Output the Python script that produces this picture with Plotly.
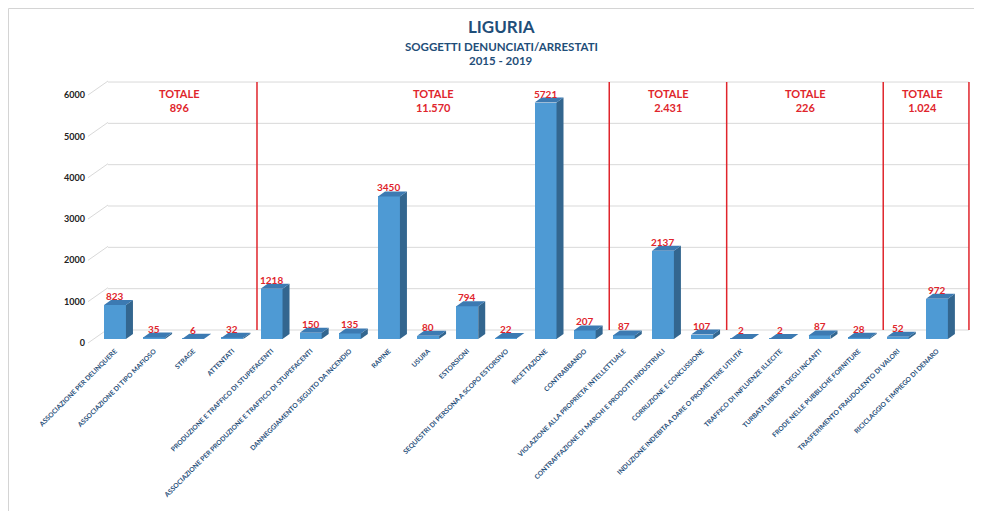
import plotly.graph_objects as go

# ---------------- data ----------------
categories = [
    "ASSOCIAZIONE PER DELINQUERE",
    "ASSOCIAZIONE DI TIPO MAFIOSO",
    "STRAGE",
    "ATTENTATI",
    "PRODUZIONE E TRAFFICO DI STUPEFACENTI",
    "ASSOCIAZIONE PER PRODUZIONE E TRAFFICO DI STUPEFACENTI",
    "DANNEGGIAMENTO SEGUITO DA INCENDIO",
    "RAPINE",
    "USURA",
    "ESTORSIONI",
    "SEQUESTRI DI PERSONA A SCOPO ESTORSIVO",
    "RICETTAZIONE",
    "CONTRABBANDO",
    "VIOLAZIONE ALLA PROPRIETA' INTELLETTUALE",
    "CONTRAFFAZIONE DI MARCHI E PRODOTTI INDUSTRIALI",
    "CORRUZIONE E CONCUSSIONE",
    "INDUZIONE INDEBITA A DARE O PROMETTERE UTILITA'",
    "TRAFFICO DI INFLUENZE ILLECITE",
    "TURBATA LIBERTA' DEGLI INCANTI",
    "FRODE NELLE PUBBLICHE FORNITURE",
    "TRASFERIMENTO FRAUDOLENTO DI VALORI",
    "RICICLAGGIO E IMPIEGO DI DENARO",
]
values = [823, 35, 6, 32, 1218, 150, 135, 3450, 80, 794, 22, 5721, 207,
          87, 2137, 107, 2, 2, 87, 28, 52, 972]
group_sizes = [4, 9, 3, 4, 2]
group_totals = ["896", "11.570", "2.431", "226", "1.024"]
y_ticks = [0, 1000, 2000, 3000, 4000, 5000, 6000]

title_lines = ["LIGURIA", "SOGGETTI DENUNCIATI/ARRESTATI", "2015 - 2019"]

# ---------------- layout geometry ----------------
OFF = 8                                  # page body margin
FIG_W, FIG_H = 982 - 2 * OFF, 519 - 2 * OFF
# plot-area edges, page px
L_P, R_P, T_P, B_P = 86, 973, 70, 345
L, R, T, B = L_P - OFF, R_P - OFF, T_P - OFF, B_P - OFF
X0_PX, DX_PX = 115.0 - OFF, 39.14        # px of category 0, px per category
Y0_PX, PPU = 339.0 - OFF, 0.04133        # px of value 0 (front), px per unit
BACK_DX, BACK_DY = 5.0, -9.0             # back wall offset (px)
BAR_W = 0.56
DEPTH_X = 7.0 / DX_PX
DEPTH_Y = 5.0 / PPU

def xr(x0px):
    return [(L - x0px) / DX_PX, (R - x0px) / DX_PX]

def yr(y0px):
    return [(y0px - B) / PPU, (y0px - T) / PPU]

def px_x(p):
    return (p - OFF - L) / (R - L)

def px_y(p):
    return (B - (p - OFF)) / (B - T)

n = len(categories)
xs = list(range(n))

FRONT = "#4E9AD4"
SIDE = "#33668F"
TOP = "#3C7AB2"
RED = "#E0252C"
NAVY = "#1F4E79"
GRID = "#D9D9D9"

WALL_X0_BACK = (108 - 120) / DX_PX       # left end of back wall (back coords)
WALL_X1_BACK = 21.69                     # right end of back wall
SIDE_X_FRONT = (88 - 115) / DX_PX        # front edge of side wall (front coords)

fig = go.Figure()

# invisible trace to activate the back-wall axes
fig.add_trace(go.Scatter(x=[0], y=[0], xaxis="x2", yaxis="y2", mode="markers",
                         marker=dict(opacity=0), hoverinfo="skip", showlegend=False))

# front faces
fig.add_trace(go.Bar(x=xs, y=values, width=BAR_W, marker=dict(color=FRONT, line=dict(width=0)),
                     showlegend=False, hoverinfo="skip"))

# side faces and top faces (3D effect)
sx, sy, tx, ty = [], [], [], []
for i, v in zip(xs, values):
    xr_ = i + BAR_W / 2
    xl_ = i - BAR_W / 2
    sx += [xr_, xr_ + DEPTH_X, xr_ + DEPTH_X, xr_, xr_, None]
    sy += [0, DEPTH_Y, v + DEPTH_Y, v, 0, None]
    tx += [xl_, xr_, xr_ + DEPTH_X, xl_ + DEPTH_X, xl_, None]
    ty += [v, v, v + DEPTH_Y, v + DEPTH_Y, v, None]
fig.add_trace(go.Scatter(x=sx, y=sy, mode="lines", fill="toself", fillcolor=SIDE,
                         line=dict(width=0, color=SIDE), hoverinfo="skip", showlegend=False))
fig.add_trace(go.Scatter(x=tx, y=ty, mode="lines", fill="toself", fillcolor=TOP,
                         line=dict(width=0, color=TOP), hoverinfo="skip", showlegend=False))

annotations = []
# data labels
for i, v in zip(xs, values):
    annotations.append(dict(xref="x", yref="y", x=i, y=v, text=str(v), showarrow=False,
                            yanchor="bottom", xanchor="center", yshift=1,
                            font=dict(family="Lato", size=10, color=RED, weight="bold")))

shapes = []
# back-wall gridlines and side-wall connectors
for t in y_ticks:
    shapes.append(dict(type="line", xref="x2", yref="y2", x0=WALL_X0_BACK, x1=WALL_X1_BACK,
                       y0=t, y1=t, line=dict(color=GRID, width=1), layer="below"))
    shapes.append(dict(type="line", xref="x", yref="y",
                       x0=SIDE_X_FRONT, y0=t - 4 / PPU,
                       x1=SIDE_X_FRONT + 20 / DX_PX, y1=t - 4 / PPU + 14 / PPU,
                       line=dict(color=GRID, width=1), layer="below"))

# group separators and totals
start = 0
for size, tot in zip(group_sizes, group_totals):
    end = start + size - 1
    sep = end + 0.5 if end < n - 1 else WALL_X1_BACK
    shapes.append(dict(type="line", xref="x2", yref="y2", x0=sep, x1=sep, y0=0, y1=6000,
                       line=dict(color=RED, width=1.5), layer="below"))
    annotations.append(dict(xref="x2", yref="y2", x=(start + end) / 2, y=5565,
                            text=f"TOTALE<br>{tot}", showarrow=False, yanchor="middle",
                            font=dict(family="Lato", size=11, color=RED, weight="bold")))
    start = end + 1

# image frame
shapes.append(dict(type="rect", xref="paper", yref="paper",
                   x0=px_x(OFF + 0.5), x1=px_x(1000), y0=px_y(540), y1=px_y(OFF + 0.5),
                   line=dict(color="#D4D4D4", width=1), fillcolor="rgba(0,0,0,0)", layer="below"))

# titles
for txt, ypx, sz in zip(title_lines, [26, 46, 60], [17, 11.5, 11.5]):
    annotations.append(dict(xref="paper", yref="paper", x=px_x(501), y=px_y(ypx),
                            text=txt, showarrow=False, yanchor="middle", xanchor="center",
                            font=dict(family="Lato", size=sz, color=NAVY, weight="bold")))

fig.update_layout(
    width=FIG_W, height=FIG_H, autosize=False,
    margin=dict(l=L, r=FIG_W - R, t=T, b=FIG_H - B, pad=0),
    paper_bgcolor="white", plot_bgcolor="white",
    bargap=0, shapes=shapes, annotations=annotations, showlegend=False,
    xaxis=dict(range=xr(X0_PX), tickmode="array", tickvals=xs, ticktext=categories,
               tickangle=-45, showgrid=False, zeroline=False, showline=False, ticks="",
               automargin=False,
               tickfont=dict(family="Lato", size=6.7, color=NAVY, weight="bold")),
    yaxis=dict(range=yr(Y0_PX), tickmode="array", tickvals=y_ticks, showgrid=False,
               zeroline=False, showline=False, ticks="", automargin=False,
               ticklabelshift=4,
               tickfont=dict(family="Lato", size=9, color="#222222", weight="bold")),
    xaxis2=dict(range=xr(X0_PX + BACK_DX), overlaying="x", anchor="y2", visible=False),
    yaxis2=dict(range=yr(Y0_PX + BACK_DY), overlaying="y", anchor="x2", visible=False),
)

fig.write_html("out.html")
